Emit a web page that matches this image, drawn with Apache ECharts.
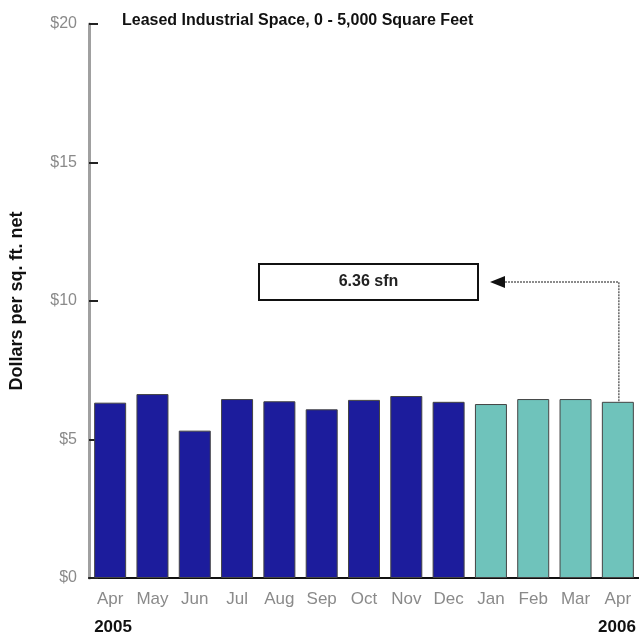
<!DOCTYPE html>
<html>
<head>
<meta charset="utf-8">
<script src="https://cdn.jsdelivr.net/npm/echarts@6/dist/echarts.min.js"></script>
<style>
  html, body { margin: 0; padding: 0; background: #fff; }
  #chart { width: 639px; height: 641px; }
</style>
</head>
<body>
<div id="chart"></div>
<script>
// months shown on the x axis
const months = ["Apr", "May", "Jun", "Jul", "Aug", "Sep", "Oct", "Nov", "Dec", "Jan", "Feb", "Mar", "Apr"];
// dollars per sq. ft. net
const rents2005 = [6.33, 6.64, 5.32, 6.46, 6.38, 6.09, 6.43, 6.57, 6.36];
const rents2006 = [6.28, 6.46, 6.46, 6.36];
const yearLabels = ["2005", "2006"];
const yTicks = [0, 5, 10, 15, 20];

const NAVY = "#1c1c9c";
const TEAL = "#6fc3bb";
const FONT = "'Liberation Sans', Arial, sans-serif";

const values = rents2005.concat(rents2006);
const barData = values.map((v, i) => ({
  value: v,
  itemStyle: { color: i < rents2005.length ? NAVY : TEAL },
}));

const chart = echarts.init(document.getElementById("chart"), null, { renderer: "canvas" });

const option = {
  animation: false,
  title: {
    text: "Leased Industrial Space, 0 - 5,000 Square Feet",
    left: 117,
    top: 8,
    textStyle: { fontFamily: FONT, fontWeight: "bold", fontSize: 16, color: "#111" },
  },
  grid: { left: 88, top: 24, width: 554, height: 554 },
  xAxis: {
    type: "category",
    data: months,
    axisLine: { lineStyle: { color: "#111", width: 2 } },
    axisTick: { show: false },
    axisLabel: { color: "#8a8a8a", fontFamily: FONT, fontSize: 17, margin: 13 },
  },
  yAxis: {
    type: "value",
    min: yTicks[0],
    max: yTicks[yTicks.length - 1],
    interval: 5,
    name: "Dollars per sq. ft. net",
    nameLocation: "middle",
    nameRotate: 90,
    nameGap: 63,
    nameTextStyle: { fontFamily: FONT, fontWeight: "bold", fontSize: 18, color: "#111" },
    splitLine: { show: false },
    axisLine: { show: true, lineStyle: { color: "#a0a0a0", width: 3 } },
    axisTick: { show: true, inside: true, length: 9, lineStyle: { color: "#222", width: 2 } },
    axisLabel: {
      color: "#8a8a8a",
      fontFamily: FONT,
      fontSize: 16,
      margin: 12,
      formatter: (v) => "$" + v,
    },
  },
  series: [
    {
      type: "bar",
      data: barData,
      barWidth: 32,
      itemStyle: { borderColor: "#444", borderWidth: 1 },
    },
  ],
};

chart.setOption(option);

// annotation box, arrow and leader line to the latest bar
const lastIdx = values.length - 1;
const lastTop = chart.convertToPixel({ seriesIndex: 0 }, [lastIdx, values[lastIdx]]);
const firstBase = chart.convertToPixel({ seriesIndex: 0 }, [0, 0]);
const lastBase = chart.convertToPixel({ seriesIndex: 0 }, [lastIdx, 0]);
const boxX = 259, boxY = 264, boxW = 219, boxH = 36;
const arrowY = boxY + boxH / 2;
const arrowTip = boxX + boxW + 12;

chart.setOption({
  graphic: [
    {
      type: "rect",
      shape: { x: boxX, y: boxY, width: boxW, height: boxH },
      style: { fill: "#fff", stroke: "#111", lineWidth: 2 },
    },
    {
      type: "text",
      x: boxX + boxW / 2,
      y: arrowY,
      style: {
        text: values[lastIdx].toFixed(2) + " sfn",
        fontFamily: FONT,
        fontWeight: "bold",
        fontSize: 16,
        fill: "#222",
        align: "center",
        verticalAlign: "middle",
      },
    },
    {
      type: "polygon",
      shape: { points: [[arrowTip, arrowY], [arrowTip + 15, arrowY - 6], [arrowTip + 15, arrowY + 6]] },
      style: { fill: "#111" },
    },
    {
      type: "polyline",
      shape: { points: [[arrowTip + 15, arrowY], [lastTop[0] + 1, arrowY], [lastTop[0] + 1, lastTop[1]]] },
      style: { stroke: "#666", lineWidth: 1.5, lineDash: [2, 1], fill: null },
    },
    {
      type: "text",
      x: firstBase[0] - 16,
      y: firstBase[1] + 41,
      style: { text: yearLabels[0], fontFamily: FONT, fontWeight: "bold", fontSize: 17, fill: "#111" },
    },
    {
      type: "text",
      x: lastBase[0] + 18,
      y: lastBase[1] + 41,
      style: { text: yearLabels[1], fontFamily: FONT, fontWeight: "bold", fontSize: 17, fill: "#111", align: "right" },
    },
  ],
});
</script>
</body>
</html>
